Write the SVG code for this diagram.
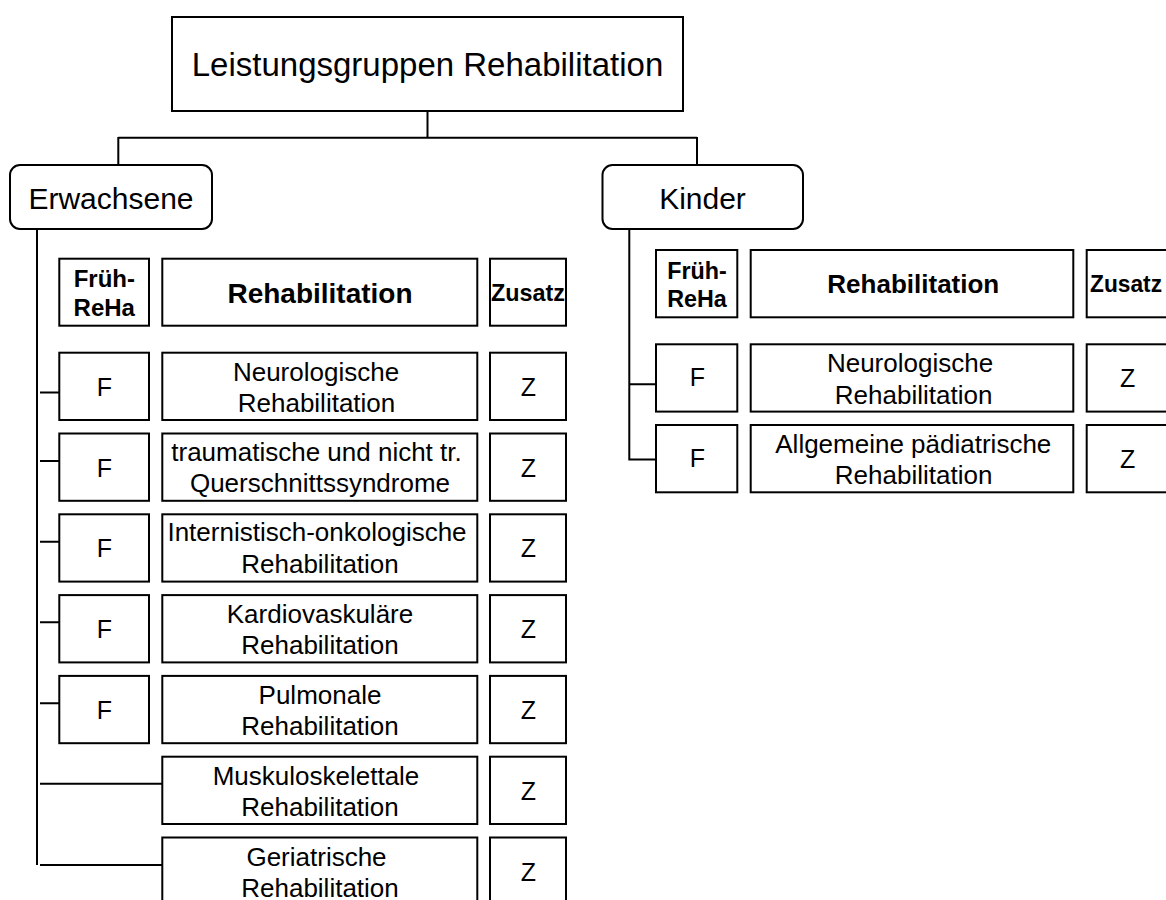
<svg xmlns="http://www.w3.org/2000/svg" width="1166" height="900" viewBox="0 0 1166 900">
<style>
  .box { fill: #fff; stroke: #000; stroke-width: 2; }
  .ln { fill: none; stroke: #000; stroke-width: 2; }
  text { font-family: "Liberation Sans", Arial, sans-serif; fill: #000; text-anchor: middle; }
  .t { font-size: 33px; }
  .g { font-size: 30px; }
  .hb { font-size: 24px; font-weight: bold; }
  .hbk { font-size: 23.3px; font-weight: bold; }
  .hr { font-size: 28px; font-weight: bold; }
  .hrk { font-size: 26px; font-weight: bold; }
  .r { font-size: 26px; }
  .fz { font-size: 25px; }
</style>
<rect width="1166" height="900" fill="#fff"/>

<g id="connectors">
  <path class="ln" d="M427.5 111 V137.7 M118.3 137.7 H697 M118.3 137 V165 M697 137 V165"/>
  <path class="ln" d="M37 229 V865"/>
  <path class="ln" d="M40 392.5 H59.3 M40 461 H59.3 M40 541.7 H59.3 M40 622.3 H59.3 M40 703.3 H59.3 M40 783.7 H162.3 M40 865 H162.3"/>
  <path class="ln" d="M629.3 229 V459.6 H656 M629.3 384.2 H656"/>
</g>

<g id="title">
  <rect class="box" x="172" y="17" width="511" height="94"/>
  <text class="t" x="427.5" y="76">Leistungsgruppen Rehabilitation</text>
</g>

<g id="erwachsene">
  <rect class="box" x="10" y="165" width="202" height="64" rx="10"/>
  <text class="g" x="111" y="209.3">Erwachsene</text>
</g>

<g id="kinder">
  <rect class="box" x="602.5" y="165" width="200.5" height="64" rx="10"/>
  <text class="g" x="702.5" y="209">Kinder</text>
</g>

<!-- Erwachsene header -->
<g id="e-head-f">
  <rect class="box" x="59.3" y="258.7" width="89.7" height="67"/>
  <text class="hb" x="104.3" y="287">Früh-</text>
  <text class="hb" x="104.3" y="315.7">ReHa</text>
</g>
<g id="e-head-r">
  <rect class="box" x="162.3" y="258.7" width="315" height="67"/>
  <text class="hr" x="320" y="303.3">Rehabilitation</text>
</g>
<g id="e-head-z">
  <rect class="box" x="490" y="258.7" width="76" height="67"/>
  <text class="hb" x="528" y="300.7" textLength="74" lengthAdjust="spacingAndGlyphs">Zusatz</text>
</g>

<!-- Row 1 -->
<g id="e-r1-f"><rect class="box" x="59.3" y="352.7" width="89.7" height="67.3"/><text class="fz" x="104.5" y="395.7">F</text></g>
<g id="e-r1-r"><rect class="box" x="162.3" y="352.7" width="315" height="67.3"/>
  <text class="r" x="316" y="381.2">Neurologische</text>
  <text class="r" x="316.5" y="411.8">Rehabilitation</text></g>
<g id="e-r1-z"><rect class="box" x="490" y="352.7" width="76" height="67.3"/><text class="fz" x="528.3" y="395.7">Z</text></g>

<!-- Row 2 -->
<g id="e-r2-f"><rect class="box" x="59.3" y="433.5" width="89.7" height="67.3"/><text class="fz" x="104.5" y="476.5">F</text></g>
<g id="e-r2-r"><rect class="box" x="162.3" y="433.5" width="315" height="67.3"/>
  <text class="r" x="316.5" y="461">traumatische und nicht tr.</text>
  <text class="r" x="320" y="492.3">Querschnittssyndrome</text></g>
<g id="e-r2-z"><rect class="box" x="490" y="433.5" width="76" height="67.3"/><text class="fz" x="528.3" y="476.5">Z</text></g>

<!-- Row 3 -->
<g id="e-r3-f"><rect class="box" x="59.3" y="514.3" width="89.7" height="67.3"/><text class="fz" x="104.5" y="557.3">F</text></g>
<g id="e-r3-r"><rect class="box" x="162.3" y="514.3" width="315" height="67.3"/>
  <text class="r" x="317" y="541.3">Internistisch-onkologische</text>
  <text class="r" x="320" y="573">Rehabilitation</text></g>
<g id="e-r3-z"><rect class="box" x="490" y="514.3" width="76" height="67.3"/><text class="fz" x="528.3" y="557.3">Z</text></g>

<!-- Row 4 -->
<g id="e-r4-f"><rect class="box" x="59.3" y="595.1" width="89.7" height="67.3"/><text class="fz" x="104.5" y="638.1">F</text></g>
<g id="e-r4-r"><rect class="box" x="162.3" y="595.1" width="315" height="67.3"/>
  <text class="r" x="320" y="623.3">Kardiovaskuläre</text>
  <text class="r" x="320" y="654">Rehabilitation</text></g>
<g id="e-r4-z"><rect class="box" x="490" y="595.1" width="76" height="67.3"/><text class="fz" x="528.3" y="638.1">Z</text></g>

<!-- Row 5 -->
<g id="e-r5-f"><rect class="box" x="59.3" y="675.9" width="89.7" height="67.3"/><text class="fz" x="104.5" y="718.9">F</text></g>
<g id="e-r5-r"><rect class="box" x="162.3" y="675.9" width="315" height="67.3"/>
  <text class="r" x="320" y="704">Pulmonale</text>
  <text class="r" x="320" y="734.8">Rehabilitation</text></g>
<g id="e-r5-z"><rect class="box" x="490" y="675.9" width="76" height="67.3"/><text class="fz" x="528.3" y="718.9">Z</text></g>

<!-- Row 6 -->
<g id="e-r6-r"><rect class="box" x="162.3" y="756.7" width="315" height="67.3"/>
  <text class="r" x="316" y="784.7">Muskuloskelettale</text>
  <text class="r" x="320" y="816.3">Rehabilitation</text></g>
<g id="e-r6-z"><rect class="box" x="490" y="756.7" width="76" height="67.3"/><text class="fz" x="528.3" y="799.7">Z</text></g>

<!-- Row 7 -->
<g id="e-r7-r"><rect class="box" x="162.3" y="837.5" width="315" height="67.3"/>
  <text class="r" x="316.5" y="865.5">Geriatrische</text>
  <text class="r" x="320" y="896.5">Rehabilitation</text></g>
<g id="e-r7-z"><rect class="box" x="490" y="837.5" width="76" height="67.3"/><text class="fz" x="528.3" y="880.5">Z</text></g>

<!-- Kinder header -->
<g id="k-head-f">
  <rect class="box" x="656" y="250" width="81.3" height="67.3"/>
  <text class="hbk" x="697" y="279">Früh-</text>
  <text class="hbk" x="697" y="306.7">ReHa</text>
</g>
<g id="k-head-r">
  <rect class="box" x="750.7" y="250" width="322.6" height="67.3"/>
  <text class="hrk" x="913.3" y="293.3">Rehabilitation</text>
</g>
<g id="k-head-z">
  <rect class="box" x="1086.7" y="250" width="82" height="67.3"/>
  <text class="hbk" x="1126" y="292.3" textLength="72" lengthAdjust="spacingAndGlyphs">Zusatz</text>
</g>

<!-- Kinder row 1 -->
<g id="k-r1-f"><rect class="box" x="656" y="344.3" width="81.3" height="67.3"/><text class="fz" x="697.3" y="386">F</text></g>
<g id="k-r1-r"><rect class="box" x="750.7" y="344.3" width="322.6" height="67.3"/>
  <text class="r" x="910" y="372.2">Neurologische</text>
  <text class="r" x="913.6" y="404.2">Rehabilitation</text></g>
<g id="k-r1-z"><rect class="box" x="1086.7" y="344.3" width="82" height="67.3"/><text class="fz" x="1127.7" y="387">Z</text></g>

<!-- Kinder row 2 -->
<g id="k-r2-f"><rect class="box" x="656" y="425" width="81.3" height="67.3"/><text class="fz" x="697.3" y="467">F</text></g>
<g id="k-r2-r"><rect class="box" x="750.7" y="425" width="322.6" height="67.3"/>
  <text class="r" x="913.3" y="452.8">Allgemeine pädiatrische</text>
  <text class="r" x="913.6" y="483.8">Rehabilitation</text></g>
<g id="k-r2-z"><rect class="box" x="1086.7" y="425" width="82" height="67.3"/><text class="fz" x="1127.7" y="468">Z</text></g>
</svg>
